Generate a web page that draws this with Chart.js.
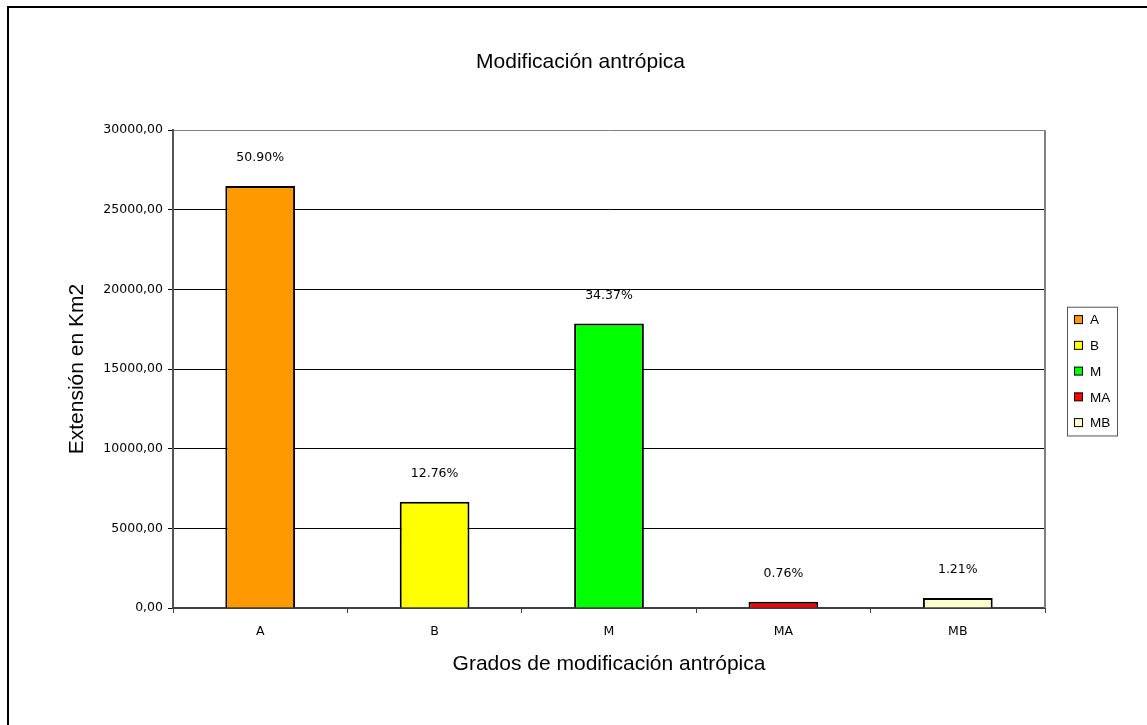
<!DOCTYPE html>
<html>
<head>
<meta charset="utf-8">
<script src="https://cdn.jsdelivr.net/npm/chart.js@4.4.0/dist/chart.umd.min.js"></script>
<style>
    html, body { margin: 0; padding: 0; background: #fff; }
    canvas { display: block; }
</style>
</head>
<body>
<canvas id="modChart" width="1147" height="725"></canvas>
<script>
// Data
const categories = ['A', 'B', 'M', 'MA', 'MB'];
const extension = [26504, 6672, 17862, 395, 628];
const percentLabels = ['50.90%', '12.76%', '34.37%', '0.76%', '1.21%'];
const barColors = ['#ff9900', '#ffff00', '#00ff00', '#ff0000', '#ffffcc'];
const yTicks = [0, 5000, 10000, 15000, 20000, 25000, 30000];

// Outer frame of the chart object
const framePlugin = {
    id: 'frame',
    beforeDraw(chart) {
        const ctx = chart.ctx;
        ctx.save();
        ctx.fillStyle = '#fff';
        ctx.fillRect(0, 0, chart.width, chart.height);
        ctx.strokeStyle = '#000';
        ctx.lineWidth = 2;
        ctx.strokeRect(8, 7, chart.width + 20, chart.height + 20);
        ctx.restore();
    },
    afterDraw(chart) {
        // grey right edge of the plot area
        const a = chart.chartArea;
        const ctx = chart.ctx;
        ctx.save();
        ctx.strokeStyle = '#808080';
        ctx.lineWidth = 2;
        ctx.beginPath();
        ctx.moveTo(a.right, a.top);
        ctx.lineTo(a.right, a.bottom);
        ctx.stroke();
        ctx.restore();
    }
};

// Percent labels above each bar
const percentPlugin = {
    id: 'percentLabels',
    afterDatasetsDraw(chart) {
        const ctx = chart.ctx;
        const meta = chart.getDatasetMeta(0);
        ctx.save();
        ctx.font = '12.5px "DejaVu Sans"';
        ctx.fillStyle = '#000';
        ctx.textAlign = 'center';
        ctx.textBaseline = 'middle';
        meta.data.forEach(function(bar, i) {
            ctx.fillText(percentLabels[i], bar.x, bar.y - 28);
        });
        ctx.restore();
    }
};

// Boxed legend on the right, one entry per category
const legendBoxPlugin = {
    id: 'legendBox',
    afterDraw(chart) {
        const a = chart.chartArea;
        const ctx = chart.ctx;
        const rowH = 25.75;
        const boxW = 50;
        const boxH = rowH * categories.length;
        const left = a.right + 22;
        const top = (a.top + a.bottom) / 2 + 2 - boxH / 2;
        ctx.save();
        ctx.strokeStyle = '#555';
        ctx.lineWidth = 1;
        ctx.strokeRect(left + 0.5, top + 0.5, boxW, boxH);
        ctx.font = '13.5px "Liberation Sans"';
        ctx.textBaseline = 'middle';
        ctx.textAlign = 'left';
        categories.forEach(function(cat, i) {
            const cy = top + rowH / 2 + i * rowH;
            ctx.fillStyle = barColors[i];
            ctx.fillRect(left + 7.5, cy - 4, 8, 8);
            ctx.strokeStyle = '#000';
            ctx.strokeRect(left + 7.5, cy - 4, 8, 8);
            ctx.fillStyle = '#000';
            ctx.fillText(cat, left + 23, cy + 1);
        });
        ctx.restore();
    }
};

const ctx = document.getElementById('modChart').getContext('2d');
new Chart(ctx, {
    type: 'bar',
    data: {
        labels: categories,
        datasets: [{
            data: extension,
            backgroundColor: barColors,
            borderColor: '#000',
            borderWidth: 2,
            barPercentage: 0.4,
            categoryPercentage: 1,
            yAxisID: 'y'
        }]
    },
    options: {
        responsive: false,
        animation: false,
        devicePixelRatio: 1,
        layout: {
            padding: { left: 14, right: 0, top: 20, bottom: 48 }
        },
        plugins: {
            legend: { display: false },
            tooltip: { enabled: false },
            title: {
                display: true,
                text: 'Modificación antrópica',
                color: '#000',
                font: { family: '"Liberation Sans", Arial', size: 21, weight: 'normal' },
                padding: { top: 30, bottom: 55 }
            }
        },
        scales: {
            y: {
                position: 'left',
                min: 0,
                max: 30000,
                afterBuildTicks: function(scale) {
                    scale.ticks = yTicks.map(function(v) { return { value: v }; });
                },
                afterFit: function(scale) { scale.width = 159; },
                ticks: {
                    color: '#000',
                    padding: 5,
                    font: { family: '"DejaVu Sans"', size: 12.5 },
                    callback: function(v) { return Number(v).toFixed(2).replace('.', ','); }
                },
                grid: {
                    color: function(c) { return c.tick && c.tick.value === 30000 ? '#808080' : '#000'; },
                    tickColor: '#000',
                    tickLength: 5,
                    lineWidth: 1
                },
                border: { display: true, color: '#555', width: 2 },
                title: {
                    display: true,
                    text: 'Extensión en Km2',
                    color: '#000',
                    font: { family: '"Liberation Sans", Arial', size: 21 },
                    padding: { top: 51, bottom: 0 }
                }
            },
            x: {
                afterFit: function(scale) { scale.height = 69; },
                ticks: {
                    color: '#000',
                    padding: 11,
                    font: { family: '"DejaVu Sans"', size: 12.5 }
                },
                grid: {
                    display: true,
                    drawOnChartArea: false,
                    offset: true,
                    tickLength: 5,
                    color: '#404040'
                },
                border: { display: true, color: '#404040', width: 2 },
                title: {
                    display: true,
                    text: 'Grados de modificación antrópica',
                    color: '#000',
                    font: { family: '"Liberation Sans", Arial', size: 21 },
                    padding: { top: 0, bottom: 0 }
                }
            },
            legendSpace: {
                type: 'linear',
                position: 'right',
                display: true,
                grid: { display: false },
                ticks: { display: false },
                border: { display: false },
                afterFit: function(scale) { scale.width = 102; }
            }
        }
    },
    plugins: [framePlugin, percentPlugin, legendBoxPlugin]
});
</script>
</body>
</html>
